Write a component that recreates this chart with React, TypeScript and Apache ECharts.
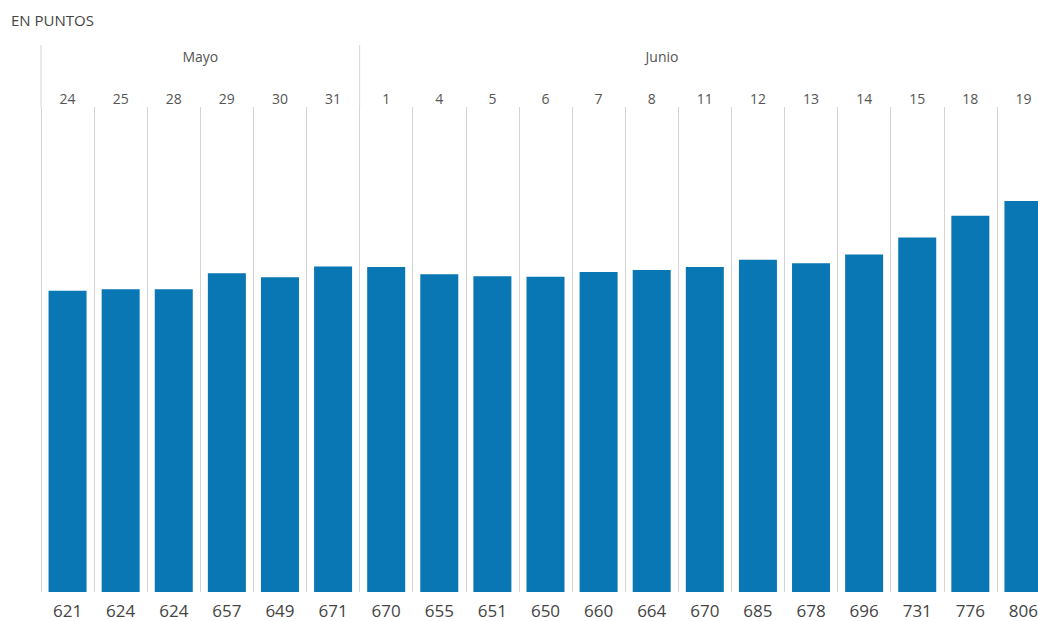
import React, { useEffect, useRef } from "react";
import * as echarts from "echarts";

// Trading days shown on the top axis
const days = ["24", "25", "28", "29", "30", "31", "1", "4", "5", "6", "7", "8", "11", "12", "13", "14", "15", "18", "19"];
// Index level (points) per day
const values = [621, 624, 624, 657, 649, 671, 670, 655, 651, 650, 660, 664, 670, 685, 678, 696, 731, 776, 806];
// Month groups: label and index of the first day in the group
const months = [
  { name: "Mayo", start: 0 },
  { name: "Junio", start: 6 },
];

const FONT = "'Open Sans', 'DejaVu Sans', sans-serif";
const BAR = "#0877b3";
const RULE = "#d4d4d4";

export default function App() {
  const ref = useRef<HTMLDivElement>(null);

  useEffect(() => {
    if (!ref.current) return;
    const chart = echarts.init(ref.current, undefined, { renderer: "svg" });
    chart.setOption({
      animation: false,
      grid: { left: 41, right: -12, top: 107, bottom: 29, outerBoundsMode: "none", containLabel: false },
      xAxis: {
        type: "category",
        position: "top",
        data: days,
        axisLine: { show: false },
        axisTick: { show: false },
        axisLabel: { interval: 0, margin: 2, color: "#555", fontSize: 14, fontFamily: FONT },
        splitLine: { show: true, interval: 0, lineStyle: { color: RULE, width: 1 } },
      },
      yAxis: { type: "value", min: 0, max: 1000, show: false, splitLine: { show: false } },
      series: [
        {
          type: "bar",
          data: values,
          barWidth: 38,
          itemStyle: { color: BAR },
          label: {
            show: true,
            position: "bottom",
            distance: 10,
            color: "#444",
            fontSize: 17,
            fontFamily: FONT,
          },
        },
      ],
    });

    // Month dividers and headers, placed from the category scale
    const c0 = chart.convertToPixel({ xAxisIndex: 0 }, 0) as number;
    const c1 = chart.convertToPixel({ xAxisIndex: 0 }, 1) as number;
    const band = c1 - c0;
    const edge = (i: number) => c0 + (i - 0.5) * band;
    const graphics: any[] = [
      {
        type: "text",
        left: 11,
        top: 12,
        style: { text: "EN PUNTOS", fill: "#444", font: `15px ${FONT}` },
      },
    ];
    months.forEach((m, k) => {
      const x = edge(m.start);
      graphics.push({
        type: "line",
        shape: { x1: x, y1: 45, x2: x, y2: 107 },
        style: { stroke: RULE, lineWidth: 1 },
      });
      const end = k + 1 < months.length ? edge(months[k + 1].start) : x + 2 * (662 - x);
      graphics.push({
        type: "text",
        x: (x + end) / 2,
        y: 56,
        style: {
          text: m.name,
          fill: "#555",
          font: `14px ${FONT}`,
          align: "center",
          verticalAlign: "middle",
        },
      });
    });
    chart.setOption({ graphic: graphics });

    return () => chart.dispose();
  }, []);

  return (
    <div
      ref={ref}
      style={{ position: "absolute", left: 0, top: 0, width: 1038, height: 621, background: "#fff" }}
    />
  );
}
